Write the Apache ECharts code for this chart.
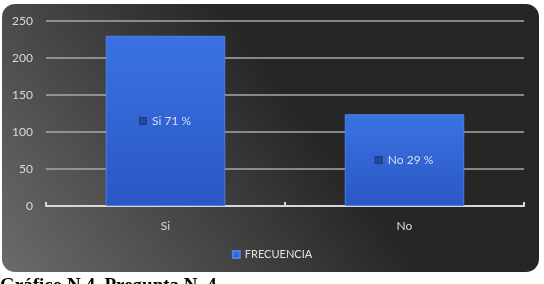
<!DOCTYPE html>
<html>
<head>
<meta charset="utf-8">
<script src="https://cdn.jsdelivr.net/npm/echarts@6/dist/echarts.min.js"></script>
<style>
  html, body { margin: 0; padding: 0; background: #fff; }
  #chart { width: 544px; height: 284px; }
</style>
</head>
<body>
<div id="chart"></div>
<script>
// datos
var categorias = ['Si', 'No'];
var frecuencia = [230, 124];
var porcentajes = ['71 %', '29 %'];
var ticksY = [0, 50, 100, 150, 200, 250];

var chart = echarts.init(document.getElementById('chart'));

var option = {
    backgroundColor: '#ffffff',
    textStyle: { fontFamily: 'Lato' },
    graphic: [
        {
            type: 'rect',
            z: -10,
            shape: { x: 2, y: 4, width: 537, height: 268, r: 13 },
            style: {
                fill: new echarts.graphic.LinearGradient(0, 1, 0.5, 0.25, [
                    { offset: 0, color: '#6b6b6b' },
                    { offset: 1, color: '#262626' }
                ])
            }
        },
        {
            type: 'text',
            left: 0,
            top: 277,
            style: {
                text: 'Gráfico N 4. Pregunta N. 4',
                font: 'bold 19px "Liberation Serif"',
                fill: '#000'
            }
        }
    ],
    grid: {
        left: 46,
        right: 20,
        top: 21,
        bottom: 78
    },
    legend: {
        bottom: 19,
        left: 'center',
        icon: 'rect',
        itemWidth: 7,
        itemHeight: 7,
        itemGap: 4,
        textStyle: { color: '#e0e0e0', fontSize: 11, fontFamily: 'Lato' },
        data: ['FRECUENCIA']
    },
    xAxis: {
        type: 'category',
        data: categorias,
        axisLine: { lineStyle: { color: '#d8d8d8', width: 2 } },
        axisTick: { show: true, inside: true, length: 4, lineStyle: { color: '#d8d8d8', width: 2 } },
        axisLabel: { color: '#d9d9d9', fontSize: 12, margin: 14 }
    },
    yAxis: {
        type: 'value',
        min: ticksY[0],
        max: ticksY[ticksY.length - 1],
        interval: 50,
        axisLine: { show: false },
        axisTick: { show: false },
        axisLabel: { color: '#d9d9d9', fontSize: 12, margin: 13 },
        splitLine: { lineStyle: { color: '#a8a8a8', width: 1.5 } }
    },
    series: [
        {
            name: 'FRECUENCIA',
            type: 'bar',
            barWidth: '50%',
            data: frecuencia,
            itemStyle: {
                color: new echarts.graphic.LinearGradient(0, 0, 0, 1, [
                    { offset: 0, color: '#3a72e2' },
                    { offset: 1, color: '#2a58c4' }
                ]),
                borderColor: '#4a80ea',
                borderWidth: 1
            },
            label: {
                show: true,
                position: 'inside',
                formatter: function (p) {
                    return '{sq|}  ' + categorias[p.dataIndex] + ' ' + porcentajes[p.dataIndex];
                },
                color: '#d4def4',
                fontSize: 12,
                fontFamily: 'Lato',
                rich: {
                    sq: {
                        width: 6,
                        height: 6,
                        backgroundColor: '#23479a',
                        borderColor: '#1c3a80',
                        borderWidth: 1
                    }
                }
            }
        }
    ]
};

chart.setOption(option);
</script>
</body>
</html>
